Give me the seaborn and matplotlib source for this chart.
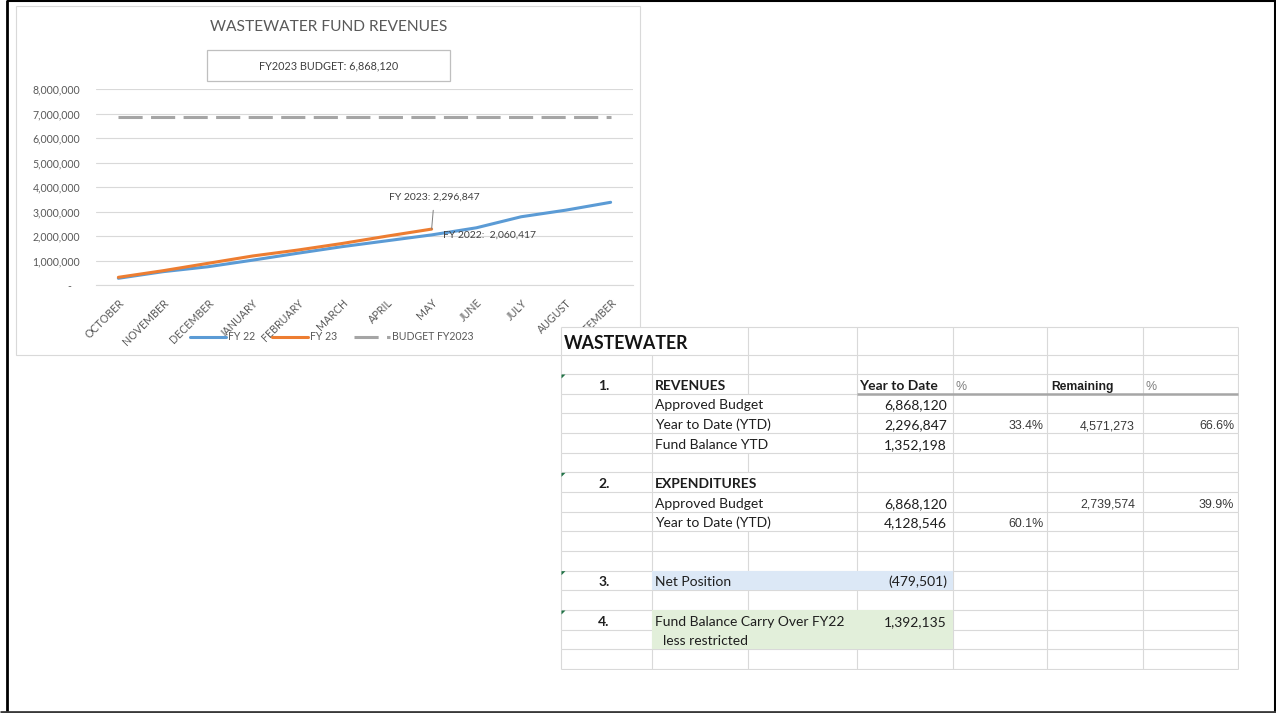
import matplotlib
matplotlib.use("Agg")
import matplotlib.pyplot as plt
import seaborn as sns
import pandas as pd
from matplotlib.lines import Line2D
from matplotlib.patches import Rectangle, Polygon
from matplotlib.ticker import FuncFormatter, MultipleLocator

# ---------------- chart data ----------------
months = ["OCTOBER", "NOVEMBER", "DECEMBER", "JANUARY", "FEBRUARY", "MARCH",
          "APRIL", "MAY", "JUNE", "JULY", "AUGUST", "SEPTEMBER"]
fy22 = [290000, 560000, 760000, 1030000, 1310000, 1580000, 1820000, 2060417,
        2350000, 2800000, 3070000, 3390000]
fy23 = [330000, 600000, 900000, 1200000, 1440000, 1710000, 2010000, 2296847]
budget_fy2023 = [6868120] * 12
series_labels = ["FY 22", "FY 23", "BUDGET FY2023"]
chart_title = "WASTEWATER FUND REVENUES"
budget_box_text = "FY2023 BUDGET: 6,868,120"
note_fy23 = "FY 2023: 2,296,847"
note_fy22 = "FY 2022:  2,060,417"

# ---------------- table data ----------------
table_title = "WASTEWATER"
tbl_num = ["", "1.", "", "", "", "", "2.", "", "", "", "", "3.", "", "4.", "", ""]
tbl_label = ["", "REVENUES", "Approved Budget", "Year to Date (YTD)", "Fund Balance YTD", "",
             "EXPENDITURES", "Approved Budget", "Year to Date (YTD)", "", "",
             "Net Position", "", "Fund Balance Carry Over FY22", "less restricted", ""]
tbl_ytd = ["", "Year to Date", "6,868,120", "2,296,847", "1,352,198", "",
           "", "6,868,120", "4,128,546", "", "",
           "(479,501)", "", "1,392,135", "", ""]
tbl_pct = ["", "%", "", "33.4%", "", "", "", "", "60.1%", "", "", "", "", "", "", ""]
tbl_rem = ["", "Remaining", "", "4,571,273", "", "", "", "2,739,574", "", "", "", "", "", "", "", ""]
tbl_rem_pct = ["", "%", "", "66.6%", "", "", "", "39.9%", "", "", "", "", "", "", "", ""]
header_rows = [1, 6]
blue_rows = [11]
green_rows = [13, 14]
indent_rows = [14]
flag_rows = [1, 6, 11, 13]

# ---------------- figure ----------------
W, H = 1276, 713
sns.set_theme(style="white")
plt.rcParams["font.family"] = ["Lato", "DejaVu Sans"]
fig = plt.figure(figsize=(W / 100, H / 100), dpi=100)
fig.patch.set_facecolor("white")


def fx(x):
    return x / W


def fy(y):
    return 1 - y / H


# outer frame of the slide
fkw = dict(transform=fig.transFigure, solid_capstyle="butt", zorder=20)
fig.add_artist(Line2D([fx(7), fx(7)], [fy(0), fy(713)], color="black", lw=2.0, **fkw))
fig.add_artist(Line2D([fx(7), fx(1276)], [fy(1), fy(1)], color="black", lw=1.5, **fkw))
fig.add_artist(Line2D([fx(1274.5), fx(1274.5)], [fy(0), fy(713)], color="black", lw=2.2, **fkw))
fig.add_artist(Line2D([fx(0), fx(1276)], [fy(711.5), fy(711.5)], color="#3a3a3a", lw=2.0, **fkw))

# chart area frame
fig.add_artist(Rectangle((fx(16), fy(355)), fx(640) - fx(16), fy(6) - fy(355),
                         transform=fig.transFigure, facecolor="white",
                         edgecolor="#d9d9d9", lw=0.8, zorder=-1))

# ---------------- line chart ----------------
ax = fig.add_axes([fx(96), fy(285.4), fx(633) - fx(96), fy(89.3) - fy(285.4)])
ax.set_facecolor("none")

df22 = pd.DataFrame({"month": months, "value": fy22})
df23 = pd.DataFrame({"month": months[:len(fy23)], "value": fy23})
dfb = pd.DataFrame({"month": months, "value": budget_fy2023})

sns.lineplot(data=df22, x="month", y="value", ax=ax, color="#5b9bd5", lw=2.2,
             sort=False, label=series_labels[0])
sns.lineplot(data=df23, x="month", y="value", ax=ax, color="#ed7d31", lw=2.2,
             sort=False, label=series_labels[1])
sns.lineplot(data=dfb, x="month", y="value", ax=ax, color="#a5a5a5", lw=2.2,
             sort=False, label=series_labels[2], linestyle=(0, (7.9, 2.75)))

ax.set_xlim(-0.5, len(months) - 0.5)
ax.set_ylim(0, 8000000)
ax.yaxis.set_major_locator(MultipleLocator(1000000))
ax.yaxis.set_major_formatter(FuncFormatter(lambda v, p: "-   " if v == 0 else f"{int(v):,}"))
ax.set_xlabel("")
ax.set_ylabel("")
ax.yaxis.grid(True, color="#d9d9d9", lw=0.8)
ax.xaxis.grid(False)
for s in ["left", "right", "top"]:
    ax.spines[s].set_visible(False)
ax.spines["bottom"].set_color("#d9d9d9")
ax.spines["bottom"].set_linewidth(0.8)
ax.tick_params(axis="y", length=0, pad=11.5, labelsize=7.6, labelcolor="#595959")
ax.tick_params(axis="x", length=0, pad=8.5, labelsize=7.7, labelcolor="#595959")
for lab in ax.get_xticklabels():
    lab.set_rotation(45)
    lab.set_ha("right")
    lab.set_va("top")
    lab.set_rotation_mode("anchor")

ax.legend(loc="center", bbox_to_anchor=(fx(331.5), fy(337)), bbox_transform=fig.transFigure,
          ncol=3, frameon=False, fontsize=7.6, handlelength=3.4, handletextpad=0.2,
          columnspacing=1.6, labelcolor="#595959")

may = len(fy23) - 1
ax.annotate(note_fy23, xy=(may, fy23[may]), xytext=(fx(434), fy(197)),
            textcoords="figure fraction", ha="center", va="center", fontsize=7.5,
            color="#404040",
            arrowprops=dict(arrowstyle="-", color="#7f7f7f", lw=0.7, shrinkA=4, shrinkB=0,
                            relpos=(0.5, 0)))
ax.annotate(note_fy22, xy=(may, fy22[may]), xytext=(8, 0), textcoords="offset points",
            ha="left", va="center", fontsize=7.5, color="#404040")

fig.text(fx(329), fy(27), chart_title, ha="center", va="center", fontsize=11.2, color="#595959")
fig.add_artist(Rectangle((fx(207), fy(81)), fx(450) - fx(207), fy(50) - fy(81),
                         transform=fig.transFigure, facecolor="white",
                         edgecolor="#bfbfbf", lw=0.9, zorder=1))
fig.text(fx(329), fy(66), budget_box_text, ha="center", va="center", fontsize=7.8,
         color="#404040", zorder=2)

# ---------------- spreadsheet table ----------------
tab = fig.add_axes([fx(560), fy(670), fx(1239) - fx(560), fy(326) - fy(670)], zorder=5)
tab.set_xlim(560, 1239)
tab.set_ylim(670, 326)
tab.set_axis_off()

col_edges = [561, 652, 748, 857, 953, 1047, 1143, 1238]
row_h = 19.667
row_tops = [327, 355] + [374 + i * row_h for i in range(15)]
row_bots = [355, 374] + [374 + (i + 1) * row_h for i in range(15)]
t_left, t_right = col_edges[0], col_edges[-1]
t_top, t_bot = row_tops[0], row_bots[-1]

tab.add_patch(Rectangle((t_left, t_top), t_right - t_left, t_bot - t_top,
                        facecolor="white", edgecolor="none", zorder=0))

grid_c = "#d9d9d9"
calibri = ["Lato", "DejaVu Sans"]
arial = ["Liberation Sans", "DejaVu Sans"]
dark = "#1e1e1e"
mid = "#3a3a3a"
fs_main = 10.0
fs_arial = 8.9

texts_by_row = {i: [] for i in range(len(row_tops))}

# title row
t = tab.text(col_edges[0] + 3, row_bots[0] - 5.5, table_title, ha="left", va="baseline",
             fontsize=12.8, fontweight="bold", color="#141414", family=calibri, zorder=4)
texts_by_row[0].append(t)

for i in range(len(tbl_label)):
    r = i + 1
    base = row_bots[r] - 4
    bold = "bold" if i in header_rows else "normal"
    if tbl_num[i]:
        t = tab.text(604, base, tbl_num[i], ha="center", va="baseline", fontsize=fs_main,
                     fontweight="bold", color=dark, family=calibri, zorder=4)
        texts_by_row[r].append(t)
    if tbl_label[i]:
        x0 = 663 if i in indent_rows else 655
        t = tab.text(x0, base, tbl_label[i], ha="left", va="baseline", fontsize=fs_main,
                     fontweight=bold, color=dark, family=calibri, zorder=4)
        texts_by_row[r].append(t)
    if tbl_ytd[i]:
        if i in header_rows:
            t = tab.text(859, base, tbl_ytd[i], ha="left", va="baseline", fontsize=fs_main,
                         fontweight="bold", color=dark, family=calibri, zorder=4)
        else:
            t = tab.text(947, base, tbl_ytd[i], ha="right", va="baseline", fontsize=fs_main,
                         color=dark, family=calibri, zorder=4)
        texts_by_row[r].append(t)
    if tbl_pct[i]:
        if i in header_rows:
            t = tab.text(955, base, tbl_pct[i], ha="left", va="baseline", fontsize=fs_arial,
                         color="#7f7f7f", family=arial, zorder=4)
        else:
            t = tab.text(1044, base, tbl_pct[i], ha="right", va="baseline", fontsize=fs_arial,
                         color=mid, family=arial, zorder=4)
        texts_by_row[r].append(t)
    if tbl_rem[i]:
        if i in header_rows:
            t = tab.text(1051, base, tbl_rem[i], ha="left", va="baseline", fontsize=8.7,
                         fontweight="bold", color=dark, family=arial, zorder=4)
        else:
            t = tab.text(1135, base, tbl_rem[i], ha="right", va="baseline", fontsize=fs_arial,
                         color=mid, family=arial, zorder=4)
        texts_by_row[r].append(t)
    if tbl_rem_pct[i]:
        if i in header_rows:
            t = tab.text(1146, base, tbl_rem_pct[i], ha="left", va="baseline", fontsize=fs_arial,
                         color="#7f7f7f", family=arial, zorder=4)
        else:
            t = tab.text(1234, base, tbl_rem_pct[i], ha="right", va="baseline", fontsize=fs_arial,
                         color=mid, family=arial, zorder=4)
        texts_by_row[r].append(t)

# horizontal grid lines
for y in sorted(set(row_tops + row_bots)):
    tab.plot([t_left, t_right], [y, y], color=grid_c, lw=0.8, zorder=1,
             solid_capstyle="butt")

# vertical grid lines, hidden where text overflows into the neighbouring cell
renderer = fig.canvas.get_renderer()
inv = tab.transData.inverted()
spans = {}
for r, lst in texts_by_row.items():
    spans[r] = []
    for t in lst:
        bb = t.get_window_extent(renderer)
        (x0, _), (x1, _) = inv.transform([(bb.x0, bb.y0), (bb.x1, bb.y1)])
        spans[r].append((min(x0, x1), max(x0, x1)))
for x in col_edges:
    for r in range(len(row_tops)):
        hidden = any(a < x - 1 and b > x + 1 for a, b in spans[r])
        if x in (t_left, t_right) or not hidden:
            tab.plot([x, x], [row_tops[r], row_bots[r]], color=grid_c, lw=0.8, zorder=1,
                     solid_capstyle="butt")

# cell fills
for i in blue_rows:
    r = i + 1
    tab.add_patch(Rectangle((col_edges[1], row_tops[r]), col_edges[4] - col_edges[1],
                            row_bots[r] - row_tops[r], facecolor="#dce8f6",
                            edgecolor="none", zorder=2))
g0, g1 = min(green_rows) + 1, max(green_rows) + 1
tab.add_patch(Rectangle((col_edges[1], row_tops[g0]), col_edges[4] - col_edges[1],
                        row_bots[g1] - row_tops[g0], facecolor="#e2efda",
                        edgecolor="none", zorder=2))

# header underline
tab.plot([col_edges[3], col_edges[-1]], [row_bots[2], row_bots[2]], color="#a6a6a6",
         lw=1.8, zorder=3, solid_capstyle="butt")

# green comment flags
for i in flag_rows:
    r = i + 1
    y0 = row_tops[r]
    tab.add_patch(Polygon([(t_left + 0.5, y0 + 0.5), (t_left + 4.5, y0 + 0.5),
                           (t_left + 0.5, y0 + 4.5)], closed=True,
                          facecolor="#217346", edgecolor="none", zorder=3))

fig.savefig("out.png", dpi=100, facecolor="white")
